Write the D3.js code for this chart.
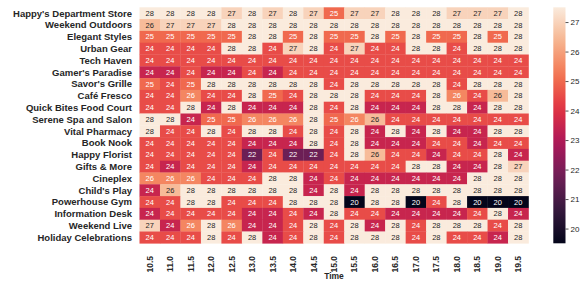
<!DOCTYPE html>
<html lang="en">
<head>
<meta charset="UTF-8">
<title>Store Heatmap</title>
<script src="https://d3js.org/d3.v7.min.js"></script>
<style>
  body { margin: 0; background: #fff; }
  svg { display: block; }
  text { font-family: "Liberation Sans", Arial, sans-serif; }
</style>
</head>
<body>
<svg id="chart"></svg>
<script>
const width = 584, height = 282;
const svg = d3.select("#chart").attr("width", width).attr("height", height);

// ==== data ====
const stores = [
  "Happy's Department Store", "Weekend Outdoors", "Elegant Styles", "Urban Gear",
  "Tech Haven", "Gamer's Paradise", "Savor's Grille", "Café Fresco",
  "Quick Bites Food Court", "Serene Spa and Salon", "Vital Pharmacy", "Book Nook",
  "Happy Florist", "Gifts & More", "Cineplex", "Child's Play",
  "Powerhouse Gym", "Information Desk", "Weekend Live", "Holiday Celebrations"
];
const times = ["10.5", "11.0", "11.5", "12.0", "12.5", "13.0", "13.5", "14.0", "14.5", "15.0",
  "15.5", "16.0", "16.5", "17.0", "17.5", "18.0", "18.5", "19.0", "19.5"];

// one row per store, one value per time slot
const values = [
  [27.5, 27.5, 27.5, 27.5, 27, 27.5, 27, 27.5, 27, 25, 27, 27, 27.5, 27.5, 27.5, 27, 27, 27, 27.5],
  [26.5, 27, 27, 27, 27.5, 27.5, 27.5, 27.5, 27.5, 27.5, 27.5, 27.5, 27.5, 27.5, 27.5, 27.5, 27.5, 27.5, 27.5],
  [25, 25, 25, 25, 25, 27.5, 27.5, 25, 27.5, 25, 25, 27.5, 25, 27.5, 25, 25, 27.5, 25, 27.5],
  [24.5, 24.5, 24.5, 24.5, 27.5, 27.5, 24.5, 27, 27.5, 24.5, 27, 24.5, 24.5, 27.5, 27.5, 24.5, 27.5, 27.5, 27.5],
  [24.5, 24.5, 24.5, 24.5, 24.5, 24.5, 24.5, 24.5, 24.5, 24.5, 24.5, 24.5, 24.5, 24.5, 24.5, 24.5, 24.5, 24.5, 24.5],
  [23.5, 23.5, 24.5, 23.5, 23.5, 24.5, 23.5, 24.5, 24.5, 24.5, 24.5, 24.5, 24.5, 24.5, 24.5, 24.5, 24.5, 24.5, 24.5],
  [25, 24.5, 25, 27.5, 27.5, 27.5, 27.5, 27.5, 27.5, 24.5, 27.5, 27.5, 27.5, 27.5, 27.5, 24.5, 27.5, 27.5, 27.5],
  [24.5, 24.5, 25.5, 24.5, 24.5, 27.5, 25, 24.5, 27.5, 27.5, 27.5, 24.5, 24.5, 24.5, 27.5, 25.5, 24.5, 26.5, 27.5],
  [24.5, 24.5, 27.5, 23.5, 27.5, 23.5, 23.5, 23.5, 27.5, 24.5, 27.5, 23.5, 23.5, 23.5, 27.5, 27.5, 23.5, 27.5, 27.5],
  [27.5, 27.5, 23.5, 25, 25, 25.5, 25.5, 25.5, 27.5, 25, 25.5, 26.5, 24.5, 24.5, 24.5, 24.5, 24.5, 24.5, 24.5],
  [27.5, 24.5, 24.5, 27.5, 24.5, 27.5, 27.5, 24.5, 27.5, 24.5, 27.5, 23.5, 27.5, 23.5, 27.5, 23.5, 23.5, 27.5, 27.5],
  [24.5, 24.5, 24.5, 24.5, 24.5, 23.5, 23.5, 23.5, 27.5, 24.5, 27.5, 23.5, 23.5, 23.5, 24.5, 24.5, 23.5, 24.5, 24.5],
  [24.5, 24.5, 24.5, 24.5, 24.5, 21.7, 24.5, 21.7, 21.7, 24.5, 27.5, 26.5, 24.5, 24.5, 23.5, 24.5, 24.5, 27.5, 23.5],
  [24.5, 23.5, 24.5, 24.5, 24.5, 23.5, 24.5, 24.5, 24.5, 24.5, 24.5, 24.5, 24.5, 27.5, 27.5, 23.5, 23.5, 27.5, 27],
  [25.5, 25.5, 25.5, 24.5, 24.5, 24.5, 27.5, 27.5, 23.5, 24.5, 23.5, 23.5, 23.5, 23.5, 23.5, 23.5, 27.5, 27.5, 27.5],
  [23.5, 26.5, 27.5, 27.5, 27.5, 27.5, 27.5, 27.5, 23.5, 27.5, 23.5, 27.5, 27.5, 27.5, 27.5, 27.5, 27.5, 27.5, 27.5],
  [24.5, 24.5, 27.5, 27.5, 24.5, 24.5, 24.5, 27.5, 27.5, 27.5, 19.5, 27.5, 27.5, 19.5, 24.5, 27.5, 19.5, 19.5, 19.5],
  [23.5, 24.5, 24.5, 24.5, 24.5, 23.5, 23.5, 24.5, 23.5, 27.5, 24.5, 24.5, 23.5, 23.5, 23.5, 23.5, 24.5, 27.5, 23.5],
  [27, 23.5, 25.5, 27.5, 25.5, 23.5, 23.5, 24.5, 27.5, 24.5, 27.5, 23.5, 27.5, 24.5, 27.5, 27.5, 27.5, 24.5, 27.5],
  [24.5, 24.5, 24.5, 27.5, 24.5, 27.5, 23.5, 24.5, 27.5, 24.5, 27.5, 27.5, 27.5, 24.5, 27.5, 24.5, 24.5, 23.5, 27.5]
];
const colorTicks = [20, 21, 22, 23, 24, 25, 26, 27];
const vmin = 19.5, vmax = 27.5;

// ==== layout ====
const plotLeft = 139.5, plotRight = 528.5, plotTop = 7.3, plotBottom = 243.3;
const cbX = 553.3, cbW = 12.2;

const x = d3.scaleBand().domain(times).range([plotLeft, plotRight]);
const y = d3.scaleBand().domain(stores).range([plotTop, plotBottom]);

// seaborn "rocket" approximated by its palette samples
const rocket = ["#03051a", "#35193e", "#701f57", "#ad1759", "#e13342", "#f37651", "#f6b48f", "#faebdd"];
const rocketInterp = d3.piecewise(d3.interpolateRgb, rocket);
const color = v => rocketInterp(Math.max(0, Math.min(1, (v - vmin) / (vmax - vmin))));

// round half to even, like the ".0f" annotations of the source
function fmt0(v) {
  const f = Math.floor(v);
  let r = Math.round(v);
  if (Math.abs(v - f - 0.5) < 1e-9) r = f % 2 === 0 ? f : f + 1;
  return String(r);
}

function textColor(c) {
  const rgb = d3.rgb(c);
  const lin = u => { u /= 255; return u <= 0.03928 ? u / 12.92 : Math.pow((u + 0.055) / 1.055, 2.4); };
  const lum = 0.2126 * lin(rgb.r) + 0.7152 * lin(rgb.g) + 0.0722 * lin(rgb.b);
  return lum > 0.408 ? "#262626" : "#ffffff";
}

const cells = [];
values.forEach((row, i) => row.forEach((v, j) => cells.push({ store: stores[i], time: times[j], v })));

const g = svg.append("g");
g.selectAll("rect")
  .data(cells)
  .enter()
  .append("rect")
  .attr("x", d => x(d.time))
  .attr("y", d => y(d.store))
  .attr("width", x.bandwidth() + 0.3)
  .attr("height", y.bandwidth() + 0.3)
  .attr("fill", d => color(d.v));

g.selectAll("text.anno")
  .data(cells)
  .enter()
  .append("text")
  .attr("class", "anno")
  .attr("x", d => x(d.time) + x.bandwidth() / 2)
  .attr("y", d => y(d.store) + y.bandwidth() / 2)
  .attr("dy", "0.35em")
  .attr("text-anchor", "middle")
  .attr("font-size", 7.5)
  .attr("fill", d => textColor(color(d.v)))
  .text(d => fmt0(d.v));

// y labels
svg.append("g").selectAll("text")
  .data(stores)
  .enter()
  .append("text")
  .attr("x", 132)
  .attr("y", d => y(d) + y.bandwidth() / 2)
  .attr("dy", "0.35em")
  .attr("text-anchor", "end")
  .attr("font-size", 9.5)
  .attr("font-weight", "bold")
  .attr("fill", "#262626")
  .text(d => d);

// x labels (rotated)
svg.append("g").selectAll("text")
  .data(times)
  .enter()
  .append("text")
  .attr("transform", d => `translate(${x(d) + x.bandwidth() / 2},256) rotate(-90)`)
  .attr("dy", "0.35em")
  .attr("text-anchor", "end")
  .attr("font-size", 8.5)
  .attr("font-weight", "bold")
  .attr("fill", "#262626")
  .text(d => d);

svg.append("text")
  .attr("x", (plotLeft + plotRight) / 2)
  .attr("y", 278.5)
  .attr("text-anchor", "middle")
  .attr("font-size", 8.5)
  .attr("font-weight", "bold")
  .attr("fill", "#262626")
  .text("Time");

// colorbar
const cb = d3.scaleLinear().domain([vmin, vmax]).range([plotBottom, plotTop]);
const grad = svg.append("defs").append("linearGradient")
  .attr("id", "cbgrad").attr("x1", 0).attr("y1", 1).attr("x2", 0).attr("y2", 0);
d3.range(0, 1.0001, 0.05).forEach(t => {
  grad.append("stop").attr("offset", t).attr("stop-color", rocketInterp(t));
});
svg.append("rect")
  .attr("x", cbX).attr("y", plotTop)
  .attr("width", cbW).attr("height", plotBottom - plotTop)
  .attr("fill", "url(#cbgrad)");

const cbAxis = svg.append("g")
  .attr("transform", `translate(${cbX + cbW},0)`)
  .call(d3.axisRight(cb).tickValues(colorTicks).tickSize(3).tickPadding(2).tickFormat(d3.format("d")));
cbAxis.select(".domain").remove();
cbAxis.selectAll("line").attr("stroke", "#262626").attr("stroke-width", 0.8);
cbAxis.selectAll("text").attr("font-size", 8).attr("fill", "#262626")
  .attr("font-family", "'Liberation Sans', Arial, sans-serif");
</script>
</body>
</html>
